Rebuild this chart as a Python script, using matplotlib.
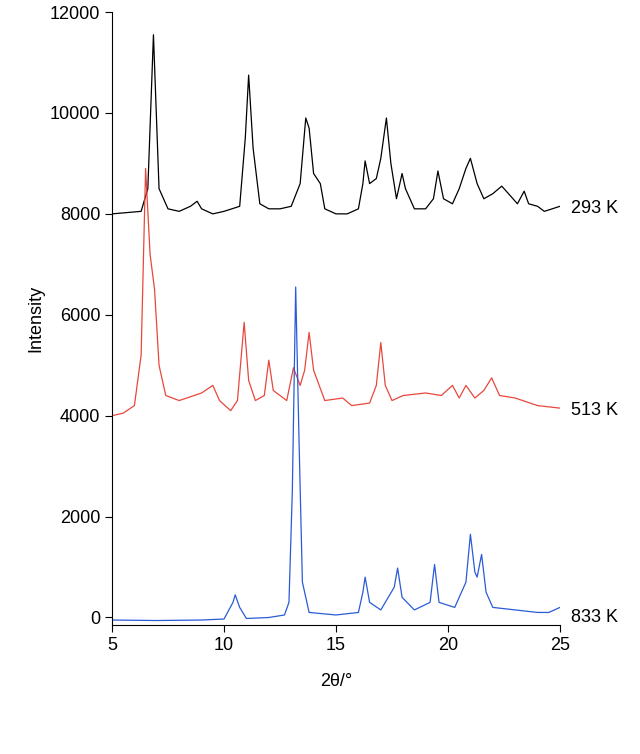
import matplotlib
matplotlib.use("Agg")
import matplotlib.pyplot as plt

plt.rcParams['font.family'] = ['Liberation Sans', 'DejaVu Sans']

x_293 = [5, 6.3, 6.6, 6.85, 7.1, 7.5, 8, 8.5, 8.8, 9.0, 9.5, 10, 10.7, 10.95, 11.1, 11.3, 11.6, 12, 12.5, 13, 13.4, 13.65, 13.8, 14, 14.3, 14.5, 15, 15.5, 16, 16.2, 16.3, 16.5, 16.8, 17.0, 17.25, 17.45, 17.7, 17.95, 18.1, 18.5, 19, 19.35, 19.55, 19.8, 20.2, 20.5, 20.8, 21.0, 21.3, 21.6, 22.0, 22.4, 22.8, 23.1, 23.4, 23.6, 24, 24.3, 25]
y_293 = [8000, 8050, 8500, 11550, 8500, 8100, 8050, 8150, 8250, 8100, 8000, 8050, 8150, 9500, 10750, 9300, 8200, 8100, 8100, 8150, 8600, 9900, 9700, 8800, 8600, 8100, 8000, 8000, 8100, 8600, 9050, 8600, 8700, 9100, 9900, 9000, 8300, 8800, 8500, 8100, 8100, 8300, 8850, 8300, 8200, 8500, 8900, 9100, 8600, 8300, 8400, 8550, 8350, 8200, 8450, 8200, 8150, 8050, 8150]

x_513 = [5, 5.5, 6.0, 6.3, 6.5, 6.7, 6.9, 7.1, 7.4, 8, 9, 9.5, 9.8, 10.3, 10.6, 10.9, 11.1, 11.4, 11.8, 12.0, 12.2, 12.8, 13.1, 13.4, 13.6, 13.8, 14.0, 14.5, 15.3, 15.7, 16.5, 16.8, 17.0, 17.2, 17.5, 18, 19, 19.7, 20.2, 20.5, 20.8, 21.2, 21.6, 21.95, 22.3, 23, 24, 25]
y_513 = [4000, 4050, 4200, 5200, 8900, 7200, 6500, 5000, 4400, 4300, 4450, 4600, 4300, 4100, 4300, 5850, 4700, 4300, 4400, 5100, 4500, 4300, 4950, 4600, 4900, 5650, 4900, 4300, 4350, 4200, 4250, 4600, 5450, 4600, 4300, 4400, 4450, 4400, 4600, 4350, 4600, 4350, 4500, 4750, 4400, 4350, 4200, 4150]

x_833 = [5, 7, 9, 10, 10.4, 10.5, 10.7, 11, 12, 12.7, 12.9, 13.05, 13.2, 13.35, 13.5, 13.8, 15, 16, 16.2, 16.3, 16.5, 17, 17.6, 17.75, 17.95, 18.5, 19.2, 19.4, 19.6, 20.3, 20.8, 21.0, 21.2, 21.3, 21.5, 21.7, 22.0, 23, 24, 24.5, 25]
y_833 = [-50, -60, -50, -30, 300, 450, 200, -20, 0, 50, 300, 2500, 6550, 3500, 700, 100, 50, 100, 500, 800, 300, 150, 600, 980, 400, 150, 300, 1050, 300, 200, 700, 1650, 900, 800, 1250, 500, 200, 150, 100, 100, 200]

labels = ["293 K", "513 K", "833 K"]
label_y = [8100, 4100, 0]

fig = plt.figure(figsize=(6.4, 7.54), dpi=100)
ax = fig.add_axes([0.175, 0.171, 0.70, 0.813])
ax.plot(x_293, y_293, color='black', lw=0.9)
ax.plot(x_513, y_513, color='#e8473c', lw=0.9)
ax.plot(x_833, y_833, color='#2a5bd7', lw=0.9)
for lab, yy in zip(labels, label_y):
    ax.text(25.5, yy, lab, fontsize=13, va='center', ha='left')
ax.set_xlim(5, 25)
ax.set_ylim(-150, 12000)
ax.set_xticks([5, 10, 15, 20, 25])
ax.set_yticks([0, 2000, 4000, 6000, 8000, 10000, 12000])
ax.tick_params(labelsize=13, direction='out', length=5)
ax.spines['top'].set_visible(False)
ax.spines['right'].set_visible(False)
ax.set_xlabel("2θ/°", fontsize=13, labelpad=14)
ax.set_ylabel("Intensity", fontsize=13)
fig.savefig("out.png", dpi=100)
